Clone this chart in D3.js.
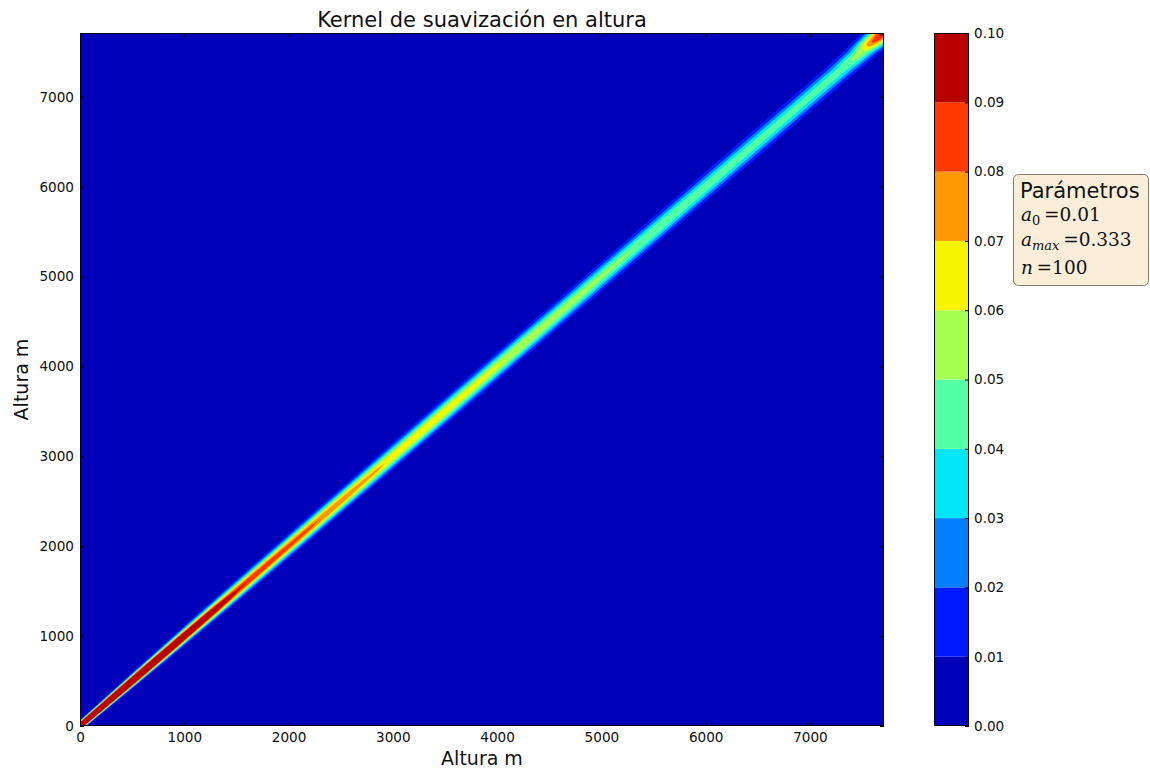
<!DOCTYPE html>
<html>
<head>
<meta charset="utf-8">
<script src="https://cdn.jsdelivr.net/npm/d3@7"></script>
<style>
  html, body { margin: 0; padding: 0; background: #fff; }
  svg { display: block; }
  text { font-family: "DejaVu Sans", sans-serif; fill: #111; }
</style>
</head>
<body>
<svg id="chart" width="1150" height="769"></svg>
<script>
// Altitude range of the kernel grid (m), same on both axes
const altitudeRange = [0, 7710];
const xTickValues = [0, 1000, 2000, 3000, 4000, 5000, 6000, 7000];
const yTickValues = [0, 1000, 2000, 3000, 4000, 5000, 6000, 7000];

// Filled contour levels and the jet colour of each band
const levels = [0, 0.01, 0.02, 0.03, 0.04, 0.05, 0.06, 0.07, 0.08, 0.09, 0.10];
const levelColors = ["#0000b9", "#001aff", "#0080ff", "#00e6f7", "#52ffa4",
                     "#a4ff52", "#f7f600", "#ff9700", "#ff3900", "#b90000"];

// Kernel row profile along the diagonal: peak weight and Gaussian width (m) per altitude
const profileAltitude = [0, 500, 1000, 1500, 2000, 2500, 3000, 3500, 4000, 4500,
                         5000, 5500, 6000, 6500, 7000, 7300, 7500, 7600, 7710];
const profilePeak = [0.20, 0.18, 0.13, 0.092, 0.085, 0.077, 0.069, 0.066, 0.061, 0.056,
                     0.052, 0.049, 0.047, 0.045, 0.044, 0.045, 0.055, 0.080, 0.095];
const profileSigma = [26, 37, 49, 62, 67, 72, 77, 81, 84, 87,
                      90, 92, 94, 96, 97, 97, 97, 97, 97];

// Parameter box lines
const paramTitle = "Parámetros";
const paramLines = [
  { sym: "a", sub: "0", subItalic: false, val: "0.01" },
  { sym: "a", sub: "max", subItalic: true, val: "0.333" },
  { sym: "n", sub: "", subItalic: false, val: "100" }
];

const titleText = "Kernel de suavización en altura";
const xLabelText = "Altura m";
const yLabelText = "Altura m";

// ---------------------------------------------------------------------------
const svg = d3.select("#chart");
const plot = { left: 80, right: 884, top: 33, bottom: 726 };
const cbar = { left: 934, right: 969, top: 33, bottom: 726 };

const x = d3.scaleLinear().domain(altitudeRange).range([plot.left, plot.right]);
const y = d3.scaleLinear().domain(altitudeRange).range([plot.bottom, plot.top]);

const peakAt = d3.scaleLinear().domain(profileAltitude).range(profilePeak).clamp(true);
const sigmaAt = d3.scaleLinear().domain(profileAltitude).range(profileSigma).clamp(true);

// Sample the kernel on a regular grid
const N = 520;
const step = (altitudeRange[1] - altitudeRange[0]) / (N - 1);
const values = new Float64Array(N * N);
for (let j = 0; j < N; j++) {
  const h = j * step;
  const p = peakAt(h), s = sigmaAt(h);
  for (let i = 0; i < N; i++) {
    const d = i * step - h;
    values[j * N + i] = p * Math.exp(-(d * d) / (2 * s * s));
  }
}

const contours = d3.contours().size([N, N]).thresholds(levels.slice(0, -1))(values);

const gridToScreen = d3.geoTransform({
  point: function (gx, gy) {
    this.stream.point(x((gx - 0.5) * step), y((gy - 0.5) * step));
  }
});
const path = d3.geoPath(gridToScreen);

svg.append("clipPath").attr("id", "plot-clip")
  .append("rect")
  .attr("x", plot.left).attr("y", plot.top)
  .attr("width", plot.right - plot.left).attr("height", plot.bottom - plot.top);

const field = svg.append("g").attr("clip-path", "url(#plot-clip)");
field.append("rect")
  .attr("x", plot.left).attr("y", plot.top)
  .attr("width", plot.right - plot.left).attr("height", plot.bottom - plot.top)
  .attr("fill", levelColors[0]);
field.selectAll("path")
  .data(contours)
  .join("path")
  .attr("d", path)
  .attr("fill", (d, i) => levelColors[i])
  .attr("stroke", (d, i) => levelColors[i])
  .attr("stroke-width", 0.4);

// Axes: inward ticks on all four sides, labels bottom and left
const tickLen = 4;
const tickFont = "13.6px";
const axisG = svg.append("g");
axisG.append("g").attr("transform", `translate(0,${plot.bottom})`)
  .call(d3.axisBottom(x).tickValues(xTickValues).tickSize(-tickLen).tickPadding(6).tickFormat(d3.format("d")))
  .call(g => g.select(".domain").remove());
axisG.append("g").attr("transform", `translate(0,${plot.top})`)
  .call(d3.axisTop(x).tickValues(xTickValues).tickSize(-tickLen).tickFormat(""))
  .call(g => g.select(".domain").remove());
axisG.append("g").attr("transform", `translate(${plot.left},0)`)
  .call(d3.axisLeft(y).tickValues(yTickValues).tickSize(-tickLen).tickPadding(6).tickFormat(d3.format("d")))
  .call(g => g.select(".domain").remove());
axisG.append("g").attr("transform", `translate(${plot.right},0)`)
  .call(d3.axisRight(y).tickValues(yTickValues).tickSize(-tickLen).tickFormat(""))
  .call(g => g.select(".domain").remove());
axisG.selectAll(".tick line").attr("stroke", "#000");
axisG.selectAll(".tick text")
  .style("font-family", "'DejaVu Sans', sans-serif")
  .style("font-size", tickFont).attr("fill", "#111");

svg.append("rect")
  .attr("x", plot.left + 0.5).attr("y", plot.top + 0.5)
  .attr("width", plot.right - plot.left - 1).attr("height", plot.bottom - plot.top - 1)
  .attr("fill", "none").attr("stroke", "#000").attr("stroke-width", 1);

// Titles
svg.append("text").attr("x", (plot.left + plot.right) / 2).attr("y", 27)
  .attr("text-anchor", "middle").style("font-size", "21px").text(titleText);
svg.append("text").attr("x", (plot.left + plot.right) / 2).attr("y", 765)
  .attr("text-anchor", "middle").style("font-size", "19px").text(xLabelText);
svg.append("text")
  .attr("transform", `translate(28,${(plot.top + plot.bottom) / 2}) rotate(-90)`)
  .attr("text-anchor", "middle").style("font-size", "19px").text(yLabelText);

// Colour bar
const c = d3.scaleLinear().domain([levels[0], levels[levels.length - 1]]).range([cbar.bottom, cbar.top]);
const cbG = svg.append("g");
cbG.selectAll("rect.band")
  .data(levelColors)
  .join("rect")
  .attr("class", "band")
  .attr("x", cbar.left).attr("width", cbar.right - cbar.left)
  .attr("y", (d, i) => c(levels[i + 1]))
  .attr("height", (d, i) => c(levels[i]) - c(levels[i + 1]))
  .attr("fill", d => d);
const cbAxis = cbG.append("g").attr("transform", `translate(${cbar.right},0)`)
  .call(d3.axisRight(c).tickValues(levels).tickSize(-tickLen).tickPadding(5).tickFormat(d3.format(".2f")))
  .call(g => g.select(".domain").remove());
cbAxis.selectAll(".tick line").attr("stroke", "#000");
cbAxis.selectAll(".tick text")
  .style("font-family", "'DejaVu Sans', sans-serif")
  .style("font-size", tickFont).attr("fill", "#111");
cbG.append("rect")
  .attr("x", cbar.left + 0.5).attr("y", cbar.top + 0.5)
  .attr("width", cbar.right - cbar.left - 1).attr("height", cbar.bottom - cbar.top - 1)
  .attr("fill", "none").attr("stroke", "#000");

// Parameter box
const box = { x: 1013.5, y: 174.5, w: 135, h: 111 };
svg.append("rect")
  .attr("x", box.x).attr("y", box.y).attr("width", box.w).attr("height", box.h)
  .attr("rx", 5).attr("ry", 5)
  .attr("fill", "rgba(245,222,179,0.5)").attr("stroke", "#857c6e").attr("stroke-width", 1);
svg.append("text").attr("x", 1020).attr("y", 198)
  .style("font-size", "21px").text(paramTitle);
const lineBaselines = [221, 246, 274];
paramLines.forEach((ln, k) => {
  const t = svg.append("text").attr("x", 1021).attr("y", lineBaselines[k])
    .style("font-family", "'DejaVu Serif', serif").style("font-size", "18.5px");
  t.append("tspan").style("font-style", "italic").text(ln.sym);
  if (ln.sub) {
    t.append("tspan").attr("dy", 4)
      .style("font-style", ln.subItalic ? "italic" : "normal")
      .style("font-size", "13px").text(ln.sub);
    t.append("tspan").attr("dy", -4).text("\u2009=" + ln.val);
  } else {
    t.append("tspan").text("\u2009=" + ln.val);
  }
});
</script>
</body>
</html>
